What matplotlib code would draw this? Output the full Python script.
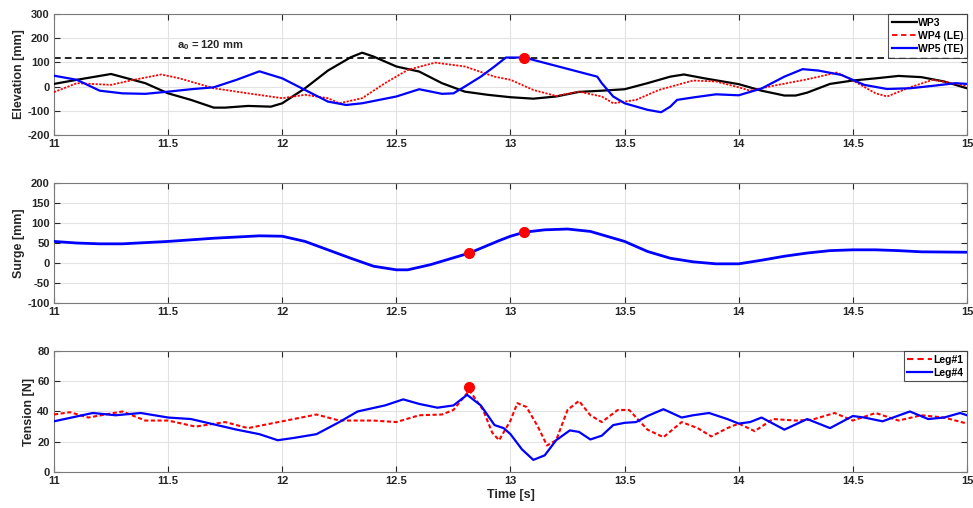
import matplotlib
matplotlib.use("Agg")
import matplotlib.pyplot as plt

plt.rcParams['font.family'] = ['Liberation Sans', 'DejaVu Sans']
plt.rcParams['font.weight'] = 'bold'
plt.rcParams['axes.unicode_minus'] = False
plt.rcParams['mathtext.fontset'] = 'custom'
plt.rcParams['mathtext.rm'] = 'Liberation Sans:bold'
plt.rcParams['mathtext.it'] = 'Liberation Sans:bold'
plt.rcParams['mathtext.bf'] = 'Liberation Sans:bold'

# ---------------- data ----------------
wp3_t = [11.0, 11.1, 11.25, 11.4, 11.5, 11.6, 11.7, 11.75, 11.85, 11.95, 12.0, 12.1, 12.2, 12.3,
         12.35, 12.4, 12.5, 12.6, 12.7, 12.8, 12.9, 13.0, 13.1, 13.2, 13.3, 13.4, 13.5, 13.6, 13.7,
         13.76, 13.85, 14.0, 14.1, 14.2, 14.25, 14.3, 14.4, 14.5, 14.6, 14.7, 14.8, 14.9, 15.0]
wp3_v = [11, 28, 52, 14, -28, -55, -87, -87, -80, -83, -69, -7, 66, 121,
         140, 124, 83, 62, 14, -21, -34, -44, -50, -41, -22, -17, -11, 14, 41,
         50, 34, 10, -17, -37, -37, -25, 11, 25, 34, 44, 39, 21, -7]

wp4_t = [11.0, 11.1, 11.25, 11.35, 11.47, 11.55, 11.7, 11.85, 12.0, 12.1, 12.2, 12.25, 12.35, 12.45,
         12.55, 12.67, 12.8, 12.93, 13.0, 13.1, 13.2, 13.3, 13.4, 13.45, 13.55, 13.65, 13.8, 13.9,
         14.0, 14.05, 14.15, 14.3, 14.43, 14.5, 14.6, 14.65, 14.75, 14.85, 15.0]
wp4_v = [-23, 14, 7, 28, 50, 34, -7, -28, -48, -34, -48, -69, -48, 14,
         69, 99, 83, 41, 28, -14, -39, -21, -41, -69, -55, -14, 25, 21,
         -3, -17, 3, 30, 58, 25, -28, -41, -3, 28, 3]

wp5_t = [11.0, 11.1, 11.2, 11.3, 11.4, 11.5, 11.6, 11.7, 11.8, 11.9, 12.0, 12.1, 12.2, 12.28,
         12.35, 12.5, 12.6, 12.7, 12.75, 12.8, 12.87, 12.93, 12.98, 13.06, 13.38, 13.4, 13.45,
         13.5, 13.6, 13.66, 13.7, 13.73, 13.8, 13.9, 14.0, 14.1, 14.2, 14.28, 14.35, 14.45,
         14.55, 14.65, 14.75, 14.85, 14.95, 15.0]
wp5_v = [45, 28, -17, -28, -30, -21, -11, -3, 28, 63, 34, -14, -62, -76,
         -69, -41, -11, -30, -28, 0, 41, 83, 120, 120, 41, 14, -41,
         -69, -96, -106, -83, -55, -45, -32, -36, -8, 41, 72, 66, 48,
         7, -10, -7, 3, 14, 11]

a0 = 120
wave_dot_t = [13.06]
wave_dot_v = [120]

surge_t = [11.0, 11.1, 11.2, 11.3, 11.5, 11.7, 11.9, 12.0, 12.1, 12.2, 12.3, 12.4, 12.5, 12.55,
           12.65, 12.82, 12.95, 13.0, 13.06, 13.15, 13.25, 13.35, 13.5, 13.6, 13.7, 13.8, 13.9,
           14.0, 14.1, 14.2, 14.3, 14.4, 14.5, 14.6, 14.7, 14.8, 15.0]
surge_v = [54, 50, 48, 48, 54, 62, 68, 67, 54, 33, 12, -8, -17, -17,
           -4, 25, 56, 67, 77, 83, 85, 79, 54, 29, 12, 3, -2,
           -2, 7, 17, 25, 31, 33, 33, 31, 28, 27]
surge_dot_t = [12.82, 13.06]
surge_dot_v = [25, 77]

leg4_t = [11.0, 11.17, 11.27, 11.38, 11.5, 11.6, 11.7, 11.8, 11.9, 11.98, 12.05, 12.15, 12.25, 12.33,
          12.45, 12.53, 12.6, 12.68, 12.75, 12.81, 12.87, 12.93, 12.97, 13.0, 13.05, 13.1, 13.15, 13.2,
          13.26, 13.3, 13.35, 13.4, 13.45, 13.5, 13.55, 13.6, 13.67, 13.75, 13.8, 13.87, 13.95,
          14.0, 14.05, 14.1, 14.2, 14.3, 14.4, 14.5, 14.55, 14.63, 14.75, 14.83, 14.9, 14.97, 15.0]
leg4_v = [33.5, 39, 37.5, 39, 36, 35, 31.5, 28, 25, 21, 22.5, 25, 33, 40,
          44, 48, 45, 42.5, 44, 51, 44, 31, 29, 25, 15, 8, 11, 21,
          27.5, 26.5, 21.5, 24, 31, 32.5, 33, 37, 41.5, 36, 37.5, 39, 35,
          32, 33, 36, 28, 35, 29, 37, 36, 33.5, 40, 35, 36, 39, 37.5]

leg1_t = [11.0, 11.07, 11.15, 11.3, 11.4, 11.5, 11.62, 11.75, 11.85, 12.0, 12.15, 12.25, 12.4, 12.5,
          12.6, 12.7, 12.75, 12.82, 12.88, 12.92, 12.95, 13.0, 13.03, 13.07, 13.12, 13.16, 13.2,
          13.25, 13.3, 13.35, 13.4, 13.47, 13.52, 13.6, 13.67, 13.75, 13.82, 13.88, 13.95, 14.0,
          14.07, 14.15, 14.25, 14.32, 14.42, 14.5, 14.6, 14.7, 14.8, 14.9, 15.0]
leg1_v = [38, 39.5, 36, 40, 34, 34, 30, 33, 29, 33.5, 38, 34, 34, 33,
          37.5, 38, 41, 54, 41, 26, 21, 34, 45.5, 43, 30, 17.5, 21,
          41, 47, 37.5, 33, 41, 41, 28, 23, 33, 29, 23.5, 29, 32,
          27, 35, 34, 34.5, 39, 34, 39, 34, 37.5, 36, 32]
tension_dot_t = [12.82]
tension_dot_v = [56]

xticks = [11, 11.5, 12, 12.5, 13, 13.5, 14, 14.5, 15]
xticklabels = ['11', '11.5', '12', '12.5', '13', '13.5', '14', '14.5', '15']
elev_ticks = [-200, -100, 0, 100, 200, 300]
surge_ticks = [-100, -50, 0, 50, 100, 150, 200]
tension_ticks = [0, 20, 40, 60, 80]

# ---------------- figure ----------------
fig = plt.figure(figsize=(9.73, 5.08), dpi=100)
left, width = 0.0555, 0.9383
ax1 = fig.add_axes([left, 0.7343, width, 0.2382])
ax2 = fig.add_axes([left, 0.4035, width, 0.2362])
ax3 = fig.add_axes([left, 0.0709, width, 0.2382])

frame_col = '#7a7a7a'
txt_col = '#262626'

def style(ax, yticks):
    ax.set_xlim(11, 15)
    ax.set_ylim(yticks[0], yticks[-1])
    ax.set_xticks(xticks)
    ax.set_xticklabels(xticklabels)
    ax.set_yticks(yticks)
    ax.grid(True, color='#e3e3e3', linewidth=0.8)
    ax.set_axisbelow(True)
    ax.tick_params(direction='in', top=True, right=True, length=4, width=0.8,
                   color=txt_col, labelsize=8, labelcolor=txt_col, pad=3)
    for lab in ax.get_xticklabels() + ax.get_yticklabels():
        lab.set_fontweight('bold')
    for s in ax.spines.values():
        s.set_color(frame_col)
        s.set_linewidth(0.8)

def style_legend(leg):
    leg.get_frame().set_edgecolor(txt_col)
    leg.get_frame().set_linewidth(0.8)
    for t in leg.get_texts():
        t.set_fontweight('bold')

leg_kw = dict(loc='upper right', fontsize=7.5, frameon=True, fancybox=False,
              handlelength=2.4, handletextpad=0.1, borderpad=0.35, labelspacing=0.3,
              borderaxespad=0.0)

# --- Elevation ---
style(ax1, elev_ticks)
ax1.axhline(a0, color='black', linestyle=(0, (4, 2.5)), linewidth=1.2, zorder=2)
ax1.plot(wp3_t, wp3_v, color='black', linewidth=1.6, label='WP3', zorder=3)
ax1.plot(wp4_t, wp4_v, color='red', linewidth=1.3, linestyle=(0, (1.2, 0.8)), label='WP4 (LE)', zorder=3)
ax1.plot(wp5_t, wp5_v, color='blue', linewidth=1.6, label='WP5 (TE)', zorder=4)
ax1.plot(wave_dot_t, wave_dot_v, 'o', color='red', markersize=7, zorder=5)
ax1.text(11.54, 172, r'a$_0$ = 120 mm', fontsize=8, fontweight='bold', color=txt_col,
         ha='left', va='center')
ax1.set_ylabel('Elevation [mm]', fontsize=9, fontweight='bold', color=txt_col, labelpad=2)
leg1 = ax1.legend(**leg_kw)
leg1.get_lines()[1].set_linestyle((0, (3, 2)))
style_legend(leg1)

# --- Surge ---
style(ax2, surge_ticks)
ax2.plot(surge_t, surge_v, color='blue', linewidth=2.0, zorder=3)
ax2.plot(surge_dot_t, surge_dot_v, 'o', color='red', markersize=7, zorder=5)
ax2.set_ylabel('Surge [mm]', fontsize=9, fontweight='bold', color=txt_col, labelpad=2)

# --- Tension ---
style(ax3, tension_ticks)
ax3.plot(leg1_t, leg1_v, color='red', linewidth=1.5, linestyle=(0, (2, 1.2)), label='Leg#1', zorder=3)
ax3.plot(leg4_t, leg4_v, color='blue', linewidth=1.6, label='Leg#4', zorder=4)
ax3.plot(tension_dot_t, tension_dot_v, 'o', color='red', markersize=7, zorder=5)
ax3.set_ylabel('Tension [N]', fontsize=9, fontweight='bold', color=txt_col, labelpad=2)
ax3.set_xlabel('Time [s]', fontsize=9, fontweight='bold', color=txt_col, labelpad=2)
leg3 = ax3.legend(**leg_kw)
leg3.get_lines()[0].set_linestyle((0, (3, 2)))
style_legend(leg3)

fig.savefig('out.png', dpi=100)
